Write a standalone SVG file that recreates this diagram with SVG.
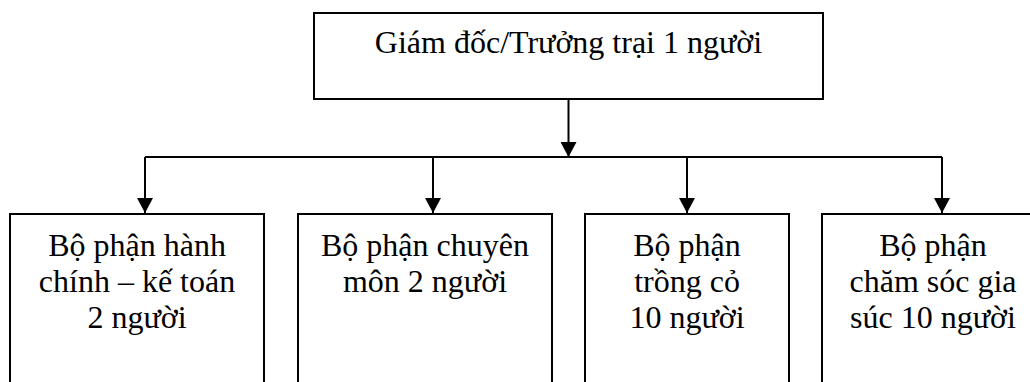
<svg xmlns="http://www.w3.org/2000/svg" width="1030" height="382" viewBox="0 0 1030 382">
  <style>
    .box { fill: #ffffff; stroke: #000000; stroke-width: 2; }
    .conn { fill: none; stroke: #000000; stroke-width: 2; }
    .lbl { font-family: "Liberation Serif", "Times New Roman", serif; font-size: 32px; fill: #000000; text-anchor: middle; }
  </style>
  <defs>
    <marker id="arrow" markerUnits="userSpaceOnUse" markerWidth="16" markerHeight="16" refX="15" refY="8" orient="auto" viewBox="0 0 16 16">
      <path d="M0,0 L15,8 L0,16 z" fill="#000000"/>
    </marker>
  </defs>
  <rect width="1030" height="382" fill="#ffffff"/>

  <g id="node-director">
    <rect class="box" x="314" y="13" width="509" height="86"/>
    <text class="lbl" x="568.5" y="52.5">Giám đốc/Trưởng trại 1 người</text>
  </g>

  <g id="node-admin">
    <rect class="box" x="10" y="214" width="254" height="200"/>
    <text class="lbl" x="137" y="256">Bộ phận hành</text>
    <text class="lbl" x="137" y="292">chính – kế toán</text>
    <text class="lbl" x="137" y="328">2 người</text>
  </g>

  <g id="node-expert">
    <rect class="box" x="298" y="214" width="254" height="200"/>
    <text class="lbl" x="425" y="256">Bộ phận chuyên</text>
    <text class="lbl" x="425" y="292">môn 2 người</text>
  </g>

  <g id="node-grass">
    <rect class="box" x="585" y="214" width="204" height="200"/>
    <text class="lbl" x="687" y="256">Bộ phận</text>
    <text class="lbl" x="687" y="292">trồng cỏ</text>
    <text class="lbl" x="687" y="328">10 người</text>
  </g>

  <g id="node-livestock">
    <rect class="box" x="822" y="214" width="222" height="200"/>
    <text class="lbl" x="933" y="256">Bộ phận</text>
    <text class="lbl" x="933" y="292">chăm sóc gia</text>
    <text class="lbl" x="933" y="328">súc 10 người</text>
  </g>

  <g id="connectors">
    <line class="conn" x1="568.5" y1="99" x2="568.5" y2="157" marker-end="url(#arrow)"/>
    <line class="conn" x1="145" y1="157" x2="942" y2="157"/>
    <line class="conn" x1="145" y1="157" x2="145" y2="213" marker-end="url(#arrow)"/>
    <line class="conn" x1="433" y1="157" x2="433" y2="213" marker-end="url(#arrow)"/>
    <line class="conn" x1="687" y1="157" x2="687" y2="213" marker-end="url(#arrow)"/>
    <line class="conn" x1="942" y1="157" x2="942" y2="213" marker-end="url(#arrow)"/>
  </g>
</svg>
